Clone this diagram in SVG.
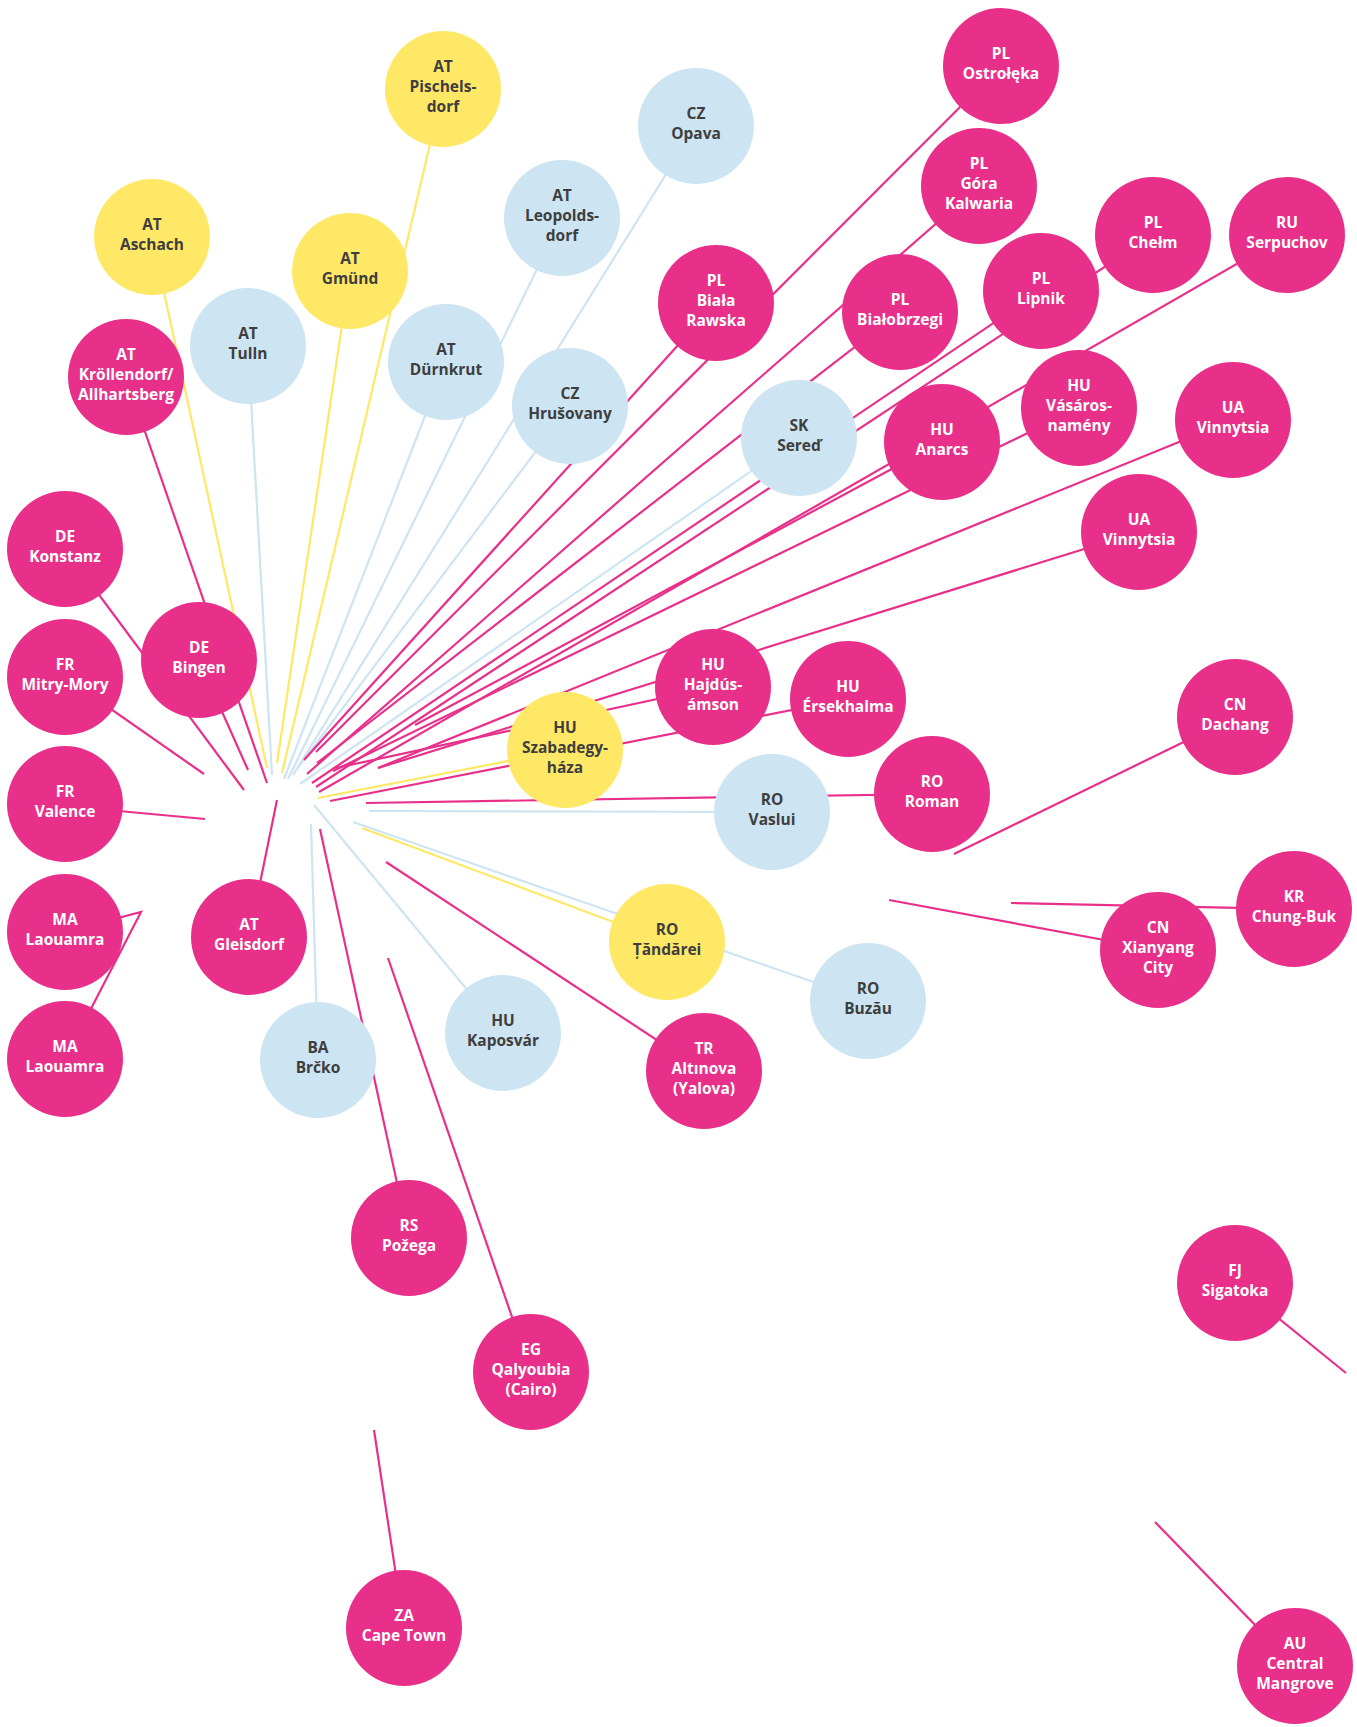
<svg xmlns="http://www.w3.org/2000/svg" width="1357" height="1727" viewBox="0 0 1357 1727">
<style>
.bg{fill:#ffffff}
.p{fill:#e8308a}
.y{fill:#ffe866}
.b{fill:#cde4f2}
.l line,.l polyline{fill:none;stroke-width:2.2;stroke-linecap:butt}
.lp{stroke:#e8308a}
.ly{stroke:#ffe866}
.lb{stroke:#cde4f2}
text{font-family:"Open Sans","Noto Sans","DejaVu Sans",sans-serif;font-weight:700;font-size:15.5px;text-anchor:middle}
.tw{fill:#ffffff}
.td{fill:#3e3e3e}
</style>
<rect class="bg" x="0" y="0" width="1357" height="1727"/>
<g id="connectors" class="l">
<line class="ly" x1="443" y1="89" x2="282" y2="773"/>
<line class="ly" x1="152" y1="237" x2="267" y2="768"/>
<line class="ly" x1="350" y1="271" x2="277" y2="763"/>
<line class="ly" x1="565" y1="750" x2="318" y2="798"/>
<line class="ly" x1="667" y1="942" x2="362" y2="828"/>
<line class="lb" x1="248" y1="346" x2="272" y2="775"/>
<line class="lb" x1="446" y1="362" x2="284" y2="779"/>
<line class="lb" x1="562" y1="218" x2="288" y2="779"/>
<line class="lb" x1="696" y1="126" x2="293" y2="775"/>
<line class="lb" x1="570" y1="406" x2="297" y2="769"/>
<line class="lb" x1="799" y1="438" x2="300" y2="784"/>
<line class="lb" x1="772" y1="812" x2="369" y2="811"/>
<line class="lb" x1="868" y1="1001" x2="353" y2="822"/>
<line class="lb" x1="503" y1="1033" x2="314" y2="805"/>
<line class="lb" x1="318" y1="1060" x2="311" y2="824"/>
<line class="lp" x1="126" y1="377" x2="267" y2="783"/>
<line class="lp" x1="65" y1="549" x2="244" y2="790"/>
<line class="lp" x1="199" y1="660" x2="248" y2="770"/>
<line class="lp" x1="65" y1="677" x2="204" y2="774"/>
<line class="lp" x1="65" y1="806" x2="205" y2="819"/>
<polyline class="lp" points="65,932 141,912 65,1059"/>
<line class="lp" x1="249" y1="937" x2="277" y2="800"/>
<line class="lp" x1="409" y1="1238" x2="320" y2="829"/>
<line class="lp" x1="704" y1="1071" x2="386" y2="862"/>
<line class="lp" x1="932" y1="794" x2="366" y2="803"/>
<line class="lp" x1="848" y1="699" x2="330" y2="801"/>
<line class="lp" x1="713" y1="687" x2="336" y2="768"/>
<line class="lp" x1="1139" y1="532" x2="378" y2="768"/>
<line class="lp" x1="1233" y1="420" x2="378" y2="768"/>
<line class="lp" x1="942" y1="442" x2="415" y2="725"/>
<line class="lp" x1="1079" y1="408" x2="333" y2="771"/>
<line class="lp" x1="1287" y1="235" x2="319" y2="792"/>
<line class="lp" x1="1153" y1="235" x2="316" y2="787"/>
<line class="lp" x1="1041" y1="291" x2="312" y2="783"/>
<line class="lp" x1="900" y1="312" x2="317" y2="763"/>
<line class="lp" x1="979" y1="186" x2="307" y2="774"/>
<line class="lp" x1="1001" y1="66" x2="316" y2="752"/>
<line class="lp" x1="716" y1="303" x2="304" y2="760"/>
<line class="lp" x1="388" y1="958" x2="531" y2="1372"/>
<line class="lp" x1="374" y1="1430" x2="404" y2="1628"/>
<line class="lp" x1="1235" y1="1283" x2="1346" y2="1373"/>
<line class="lp" x1="1155" y1="1522" x2="1295" y2="1666"/>
<line class="lp" x1="954" y1="854" x2="1235" y2="717"/>
<line class="lp" x1="889" y1="900" x2="1158" y2="950"/>
<line class="lp" x1="1011" y1="903" x2="1294" y2="909"/>
</g>
<g id="nodes">
<g id="at-pischelsdorf"><circle class="y" cx="443" cy="89" r="58"/><text class="td"><tspan x="443" y="72">AT</tspan><tspan x="443" y="92">Pischels-</tspan><tspan x="443" y="112">dorf</tspan></text></g>
<g id="at-aschach"><circle class="y" cx="152" cy="237" r="58"/><text class="td"><tspan x="152" y="230">AT</tspan><tspan x="152" y="250">Aschach</tspan></text></g>
<g id="at-gmund"><circle class="y" cx="350" cy="271" r="58"/><text class="td"><tspan x="350" y="264">AT</tspan><tspan x="350" y="284">Gmünd</tspan></text></g>
<g id="at-tulln"><circle class="b" cx="248" cy="346" r="58"/><text class="td"><tspan x="248" y="339">AT</tspan><tspan x="248" y="359">Tulln</tspan></text></g>
<g id="at-krollendorf"><circle class="p" cx="126" cy="377" r="58"/><text class="tw"><tspan x="126" y="360">AT</tspan><tspan x="126" y="380">Kröllendorf/</tspan><tspan x="126" y="400">Allhartsberg</tspan></text></g>
<g id="at-durnkrut"><circle class="b" cx="446" cy="362" r="58"/><text class="td"><tspan x="446" y="355">AT</tspan><tspan x="446" y="375">Dürnkrut</tspan></text></g>
<g id="at-leopoldsdorf"><circle class="b" cx="562" cy="218" r="58"/><text class="td"><tspan x="562" y="201">AT</tspan><tspan x="562" y="221">Leopolds-</tspan><tspan x="562" y="241">dorf</tspan></text></g>
<g id="cz-opava"><circle class="b" cx="696" cy="126" r="58"/><text class="td"><tspan x="696" y="119">CZ</tspan><tspan x="696" y="139">Opava</tspan></text></g>
<g id="cz-hrusovany"><circle class="b" cx="570" cy="406" r="58"/><text class="td"><tspan x="570" y="399">CZ</tspan><tspan x="570" y="419">Hrušovany</tspan></text></g>
<g id="pl-ostroleka"><circle class="p" cx="1001" cy="66" r="58"/><text class="tw"><tspan x="1001" y="59">PL</tspan><tspan x="1001" y="79">Ostrołęka</tspan></text></g>
<g id="pl-gora-kalwaria"><circle class="p" cx="979" cy="186" r="58"/><text class="tw"><tspan x="979" y="169">PL</tspan><tspan x="979" y="189">Góra</tspan><tspan x="979" y="209">Kalwaria</tspan></text></g>
<g id="pl-biala-rawska"><circle class="p" cx="716" cy="303" r="58"/><text class="tw"><tspan x="716" y="286">PL</tspan><tspan x="716" y="306">Biała</tspan><tspan x="716" y="326">Rawska</tspan></text></g>
<g id="pl-bialobrzegi"><circle class="p" cx="900" cy="312" r="58"/><text class="tw"><tspan x="900" y="305">PL</tspan><tspan x="900" y="325">Białobrzegi</tspan></text></g>
<g id="pl-lipnik"><circle class="p" cx="1041" cy="291" r="58"/><text class="tw"><tspan x="1041" y="284">PL</tspan><tspan x="1041" y="304">Lipnik</tspan></text></g>
<g id="pl-chelm"><circle class="p" cx="1153" cy="235" r="58"/><text class="tw"><tspan x="1153" y="228">PL</tspan><tspan x="1153" y="248">Chełm</tspan></text></g>
<g id="ru-serpuchov"><circle class="p" cx="1287" cy="235" r="58"/><text class="tw"><tspan x="1287" y="228">RU</tspan><tspan x="1287" y="248">Serpuchov</tspan></text></g>
<g id="sk-sered"><circle class="b" cx="799" cy="438" r="58"/><text class="td"><tspan x="799" y="431">SK</tspan><tspan x="799" y="451">Sereď</tspan></text></g>
<g id="hu-anarcs"><circle class="p" cx="942" cy="442" r="58"/><text class="tw"><tspan x="942" y="435">HU</tspan><tspan x="942" y="455">Anarcs</tspan></text></g>
<g id="hu-vasarosnameny"><circle class="p" cx="1079" cy="408" r="58"/><text class="tw"><tspan x="1079" y="391">HU</tspan><tspan x="1079" y="411">Vásáros-</tspan><tspan x="1079" y="431">namény</tspan></text></g>
<g id="ua-vinnytsia-1"><circle class="p" cx="1233" cy="420" r="58"/><text class="tw"><tspan x="1233" y="413">UA</tspan><tspan x="1233" y="433">Vinnytsia</tspan></text></g>
<g id="ua-vinnytsia-2"><circle class="p" cx="1139" cy="532" r="58"/><text class="tw"><tspan x="1139" y="525">UA</tspan><tspan x="1139" y="545">Vinnytsia</tspan></text></g>
<g id="de-konstanz"><circle class="p" cx="65" cy="549" r="58"/><text class="tw"><tspan x="65" y="542">DE</tspan><tspan x="65" y="562">Konstanz</tspan></text></g>
<g id="de-bingen"><circle class="p" cx="199" cy="660" r="58"/><text class="tw"><tspan x="199" y="653">DE</tspan><tspan x="199" y="673">Bingen</tspan></text></g>
<g id="fr-mitry-mory"><circle class="p" cx="65" cy="677" r="58"/><text class="tw"><tspan x="65" y="670">FR</tspan><tspan x="65" y="690">Mitry-Mory</tspan></text></g>
<g id="fr-valence"><circle class="p" cx="65" cy="804" r="58"/><text class="tw"><tspan x="65" y="797">FR</tspan><tspan x="65" y="817">Valence</tspan></text></g>
<g id="hu-hajdusamson"><circle class="p" cx="713" cy="687" r="58"/><text class="tw"><tspan x="713" y="670">HU</tspan><tspan x="713" y="690">Hajdús-</tspan><tspan x="713" y="710">ámson</tspan></text></g>
<g id="hu-ersekhalma"><circle class="p" cx="848" cy="699" r="58"/><text class="tw"><tspan x="848" y="692">HU</tspan><tspan x="848" y="712">Érsekhalma</tspan></text></g>
<g id="hu-szabadegyhaza"><circle class="y" cx="565" cy="750" r="58"/><text class="td"><tspan x="565" y="733">HU</tspan><tspan x="565" y="753">Szabadegy-</tspan><tspan x="565" y="773">háza</tspan></text></g>
<g id="ro-vaslui"><circle class="b" cx="772" cy="812" r="58"/><text class="td"><tspan x="772" y="805">RO</tspan><tspan x="772" y="825">Vaslui</tspan></text></g>
<g id="ro-roman"><circle class="p" cx="932" cy="794" r="58"/><text class="tw"><tspan x="932" y="787">RO</tspan><tspan x="932" y="807">Roman</tspan></text></g>
<g id="cn-dachang"><circle class="p" cx="1235" cy="717" r="58"/><text class="tw"><tspan x="1235" y="710">CN</tspan><tspan x="1235" y="730">Dachang</tspan></text></g>
<g id="ma-laouamra-1"><circle class="p" cx="65" cy="932" r="58"/><text class="tw"><tspan x="65" y="925">MA</tspan><tspan x="65" y="945">Laouamra</tspan></text></g>
<g id="ma-laouamra-2"><circle class="p" cx="65" cy="1059" r="58"/><text class="tw"><tspan x="65" y="1052">MA</tspan><tspan x="65" y="1072">Laouamra</tspan></text></g>
<g id="at-gleisdorf"><circle class="p" cx="249" cy="937" r="58"/><text class="tw"><tspan x="249" y="930">AT</tspan><tspan x="249" y="950">Gleisdorf</tspan></text></g>
<g id="ba-brcko"><circle class="b" cx="318" cy="1060" r="58"/><text class="td"><tspan x="318" y="1053">BA</tspan><tspan x="318" y="1073">Brčko</tspan></text></g>
<g id="hu-kaposvar"><circle class="b" cx="503" cy="1033" r="58"/><text class="td"><tspan x="503" y="1026">HU</tspan><tspan x="503" y="1046">Kaposvár</tspan></text></g>
<g id="ro-tandarei"><circle class="y" cx="667" cy="942" r="58"/><text class="td"><tspan x="667" y="935">RO</tspan><tspan x="667" y="955">Țăndărei</tspan></text></g>
<g id="ro-buzau"><circle class="b" cx="868" cy="1001" r="58"/><text class="td"><tspan x="868" y="994">RO</tspan><tspan x="868" y="1014">Buzău</tspan></text></g>
<g id="tr-altinova"><circle class="p" cx="704" cy="1071" r="58"/><text class="tw"><tspan x="704" y="1054">TR</tspan><tspan x="704" y="1074">Altınova</tspan><tspan x="704" y="1094">(Yalova)</tspan></text></g>
<g id="cn-xianyang"><circle class="p" cx="1158" cy="950" r="58"/><text class="tw"><tspan x="1158" y="933">CN</tspan><tspan x="1158" y="953">Xianyang</tspan><tspan x="1158" y="973">City</tspan></text></g>
<g id="kr-chung-buk"><circle class="p" cx="1294" cy="909" r="58"/><text class="tw"><tspan x="1294" y="902">KR</tspan><tspan x="1294" y="922">Chung-Buk</tspan></text></g>
<g id="rs-pozega"><circle class="p" cx="409" cy="1238" r="58"/><text class="tw"><tspan x="409" y="1231">RS</tspan><tspan x="409" y="1251">Požega</tspan></text></g>
<g id="eg-qalyoubia"><circle class="p" cx="531" cy="1372" r="58"/><text class="tw"><tspan x="531" y="1355">EG</tspan><tspan x="531" y="1375">Qalyoubia</tspan><tspan x="531" y="1395">(Cairo)</tspan></text></g>
<g id="fj-sigatoka"><circle class="p" cx="1235" cy="1283" r="58"/><text class="tw"><tspan x="1235" y="1276">FJ</tspan><tspan x="1235" y="1296">Sigatoka</tspan></text></g>
<g id="za-cape-town"><circle class="p" cx="404" cy="1628" r="58"/><text class="tw"><tspan x="404" y="1621">ZA</tspan><tspan x="404" y="1641">Cape Town</tspan></text></g>
<g id="au-central-mangrove"><circle class="p" cx="1295" cy="1666" r="58"/><text class="tw"><tspan x="1295" y="1649">AU</tspan><tspan x="1295" y="1669">Central</tspan><tspan x="1295" y="1689">Mangrove</tspan></text></g>
</g>
</svg>
